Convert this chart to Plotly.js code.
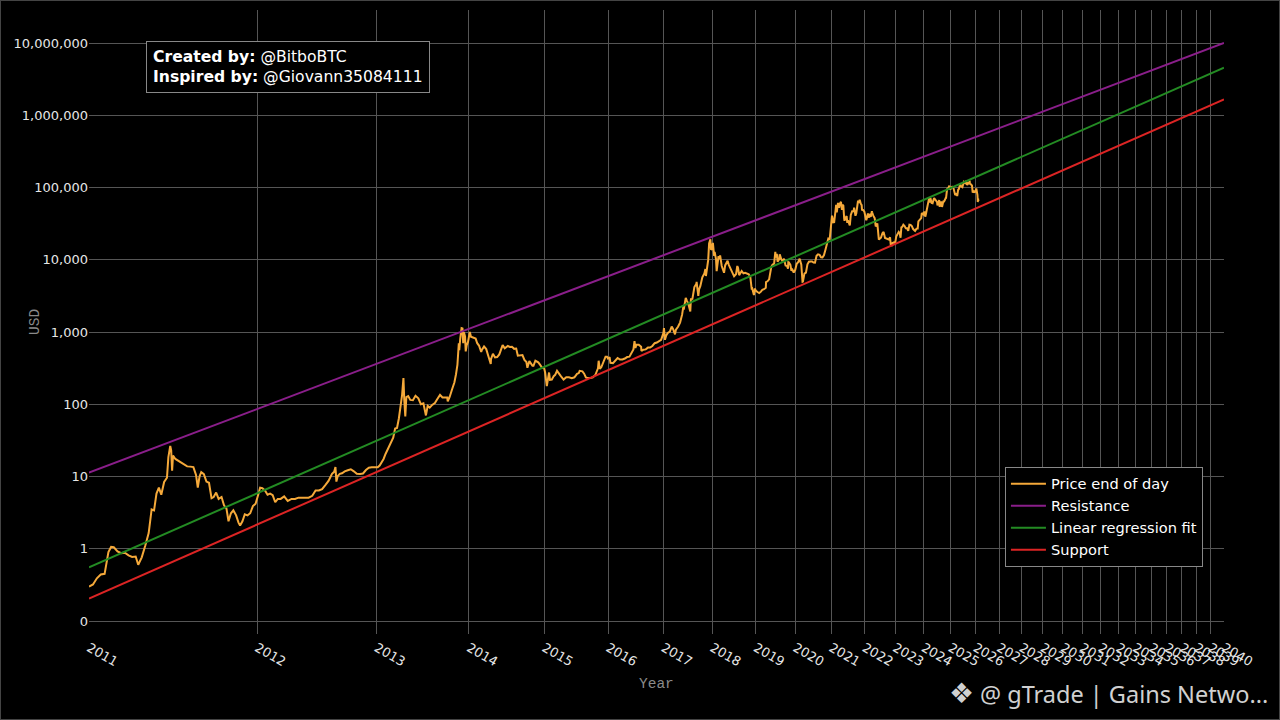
<!DOCTYPE html>
<html><head><meta charset="utf-8">
<script src="https://cdn.plot.ly/plotly-3.0.1.min.js"></script>
<style>
html,body{margin:0;padding:0;background:#000;}
#chart{width:1280px;height:720px;}
#frame{position:absolute;left:0;top:0;width:1280px;height:720px;box-sizing:border-box;border:1px solid #444;pointer-events:none;}
</style>
</head><body><div id="chart"></div><div id="frame"></div>
<script>
const GENESIS = "2009-01-03";
const tickYears = [2011,2012,2013,2014,2015,2016,2017,2018,2019,2020,2021,2022,2023,2024,2025,2026,2027,2028,2029,2030,2031,2032,2033,2034,2035,2036,2037,2038,2039,2040];
const yTickVals = [0.1,1,10,100,1000,10000,100000,1000000,10000000];
const yTickText = ["0","1","10","100","1,000","10,000","100,000","1,000,000","10,000,000"];

const priceDates = [
"2011-01-01","2011-01-08","2011-01-15","2011-01-22","2011-01-29","2011-02-05","2011-02-10","2011-02-15","2011-02-22","2011-03-01","2011-03-08","2011-03-15","2011-03-22","2011-03-29","2011-04-03","2011-04-10","2011-04-17","2011-04-24","2011-04-30","2011-05-05","2011-05-10","2011-05-15","2011-05-20","2011-05-26","2011-06-01","2011-06-04","2011-06-08","2011-06-10","2011-06-12","2011-06-14","2011-06-19","2011-06-25","2011-07-01","2011-07-08","2011-07-15","2011-07-22","2011-07-29","2011-08-04","2011-08-08","2011-08-12","2011-08-16","2011-08-22","2011-08-28","2011-09-03","2011-09-09","2011-09-14","2011-09-20","2011-09-26","2011-10-03","2011-10-09","2011-10-15","2011-10-20","2011-10-26","2011-11-01","2011-11-08","2011-11-14","2011-11-18","2011-11-24","2011-11-30","2011-12-07","2011-12-14","2011-12-21","2011-12-28",
"2012-01-04","2012-01-09","2012-01-15","2012-01-22","2012-01-29","2012-02-05","2012-02-12","2012-02-19","2012-02-26","2012-03-05","2012-03-15","2012-03-25","2012-04-05","2012-04-15","2012-04-25","2012-05-05","2012-05-15","2012-05-25","2012-06-05","2012-06-15","2012-06-25","2012-07-05","2012-07-15","2012-07-25","2012-08-05","2012-08-12","2012-08-16","2012-08-19","2012-08-23","2012-08-30","2012-09-06","2012-09-15","2012-09-25","2012-10-05","2012-10-15","2012-10-25","2012-11-05","2012-11-15","2012-11-25","2012-12-05","2012-12-15","2012-12-25",
"2013-01-05","2013-01-12","2013-01-19","2013-01-26","2013-02-02","2013-02-09","2013-02-16","2013-02-23","2013-03-02","2013-03-09","2013-03-16","2013-03-23","2013-03-30","2013-04-04","2013-04-09","2013-04-10","2013-04-12","2013-04-16","2013-04-20","2013-04-27","2013-05-05","2013-05-15","2013-05-25","2013-06-05","2013-06-15","2013-06-25","2013-07-05","2013-07-12","2013-07-20","2013-07-30","2013-08-10","2013-08-20","2013-08-31","2013-09-10","2013-09-20","2013-09-30","2013-10-02","2013-10-10","2013-10-20","2013-10-30","2013-11-06","2013-11-12","2013-11-18","2013-11-20","2013-11-24","2013-11-30","2013-12-04","2013-12-07","2013-12-10","2013-12-15","2013-12-18","2013-12-22","2013-12-28",
"2014-01-05","2014-01-10","2014-01-20","2014-01-31","2014-02-07","2014-02-15","2014-02-25","2014-02-28","2014-03-10","2014-03-20","2014-03-31","2014-04-10","2014-04-11","2014-04-20","2014-04-30","2014-05-10","2014-05-20","2014-05-31","2014-06-05","2014-06-15","2014-06-30","2014-07-10","2014-07-20","2014-07-31","2014-08-10","2014-08-18","2014-08-31","2014-09-10","2014-09-20","2014-09-30","2014-10-05","2014-10-15","2014-10-31","2014-11-05","2014-11-15","2014-11-30","2014-12-10","2014-12-20","2014-12-31",
"2015-01-05","2015-01-14","2015-01-20","2015-01-26","2015-01-31","2015-02-10","2015-02-20","2015-02-28","2015-03-10","2015-03-20","2015-03-31","2015-04-15","2015-04-30","2015-05-15","2015-05-31","2015-06-15","2015-06-30","2015-07-10","2015-07-15","2015-07-31","2015-08-10","2015-08-20","2015-08-31","2015-09-15","2015-09-30","2015-10-15","2015-10-31","2015-11-04","2015-11-11","2015-11-20","2015-11-30","2015-12-10","2015-12-16","2015-12-25","2015-12-31",
"2016-01-10","2016-01-15","2016-01-31","2016-02-15","2016-02-29","2016-03-15","2016-03-31","2016-04-15","2016-04-30","2016-05-15","2016-05-31","2016-06-10","2016-06-17","2016-06-23","2016-06-30","2016-07-15","2016-07-31","2016-08-02","2016-08-15","2016-08-31","2016-09-15","2016-09-30","2016-10-15","2016-10-31","2016-11-15","2016-11-30","2016-12-15","2016-12-31",
"2017-01-04","2017-01-11","2017-01-20","2017-01-31","2017-02-15","2017-02-28","2017-03-10","2017-03-24","2017-03-31","2017-04-15","2017-04-30","2017-05-15","2017-05-25","2017-05-27","2017-05-31","2017-06-11","2017-06-20","2017-06-30","2017-07-15","2017-07-20","2017-07-31","2017-08-15","2017-08-31","2017-09-01","2017-09-14","2017-09-20","2017-09-30","2017-10-15","2017-10-31","2017-11-08","2017-11-12","2017-11-20","2017-11-28","2017-11-30","2017-12-07","2017-12-17","2017-12-22","2017-12-25","2017-12-31",
"2018-01-06","2018-01-16","2018-01-20","2018-01-31","2018-02-05","2018-02-20","2018-02-28","2018-03-05","2018-03-18","2018-03-31","2018-04-06","2018-04-15","2018-04-25","2018-05-05","2018-05-15","2018-05-31","2018-06-15","2018-06-28","2018-07-15","2018-07-25","2018-07-31","2018-08-10","2018-08-15","2018-08-31","2018-09-15","2018-09-30","2018-10-15","2018-10-31","2018-11-14","2018-11-20","2018-11-25","2018-11-30","2018-12-15","2018-12-24","2018-12-31",
"2019-01-15","2019-01-31","2019-02-15","2019-02-28","2019-03-15","2019-03-31","2019-04-02","2019-04-15","2019-04-30","2019-05-14","2019-05-20","2019-05-31","2019-06-15","2019-06-26","2019-06-30","2019-07-10","2019-07-17","2019-07-31","2019-08-06","2019-08-20","2019-08-31","2019-09-15","2019-09-24","2019-09-30","2019-10-15","2019-10-23","2019-10-26","2019-10-31","2019-11-15","2019-11-25","2019-11-30","2019-12-17","2019-12-31",
"2020-01-15","2020-01-31","2020-02-13","2020-02-29","2020-03-12","2020-03-16","2020-03-31","2020-04-15","2020-04-30","2020-05-15","2020-05-31","2020-06-15","2020-06-30","2020-07-15","2020-07-31","2020-08-15","2020-08-31","2020-09-15","2020-09-30","2020-10-15","2020-10-31","2020-11-15","2020-11-30","2020-12-15","2020-12-31",
"2021-01-08","2021-01-22","2021-01-31","2021-02-15","2021-02-21","2021-02-28","2021-03-13","2021-03-25","2021-03-31","2021-04-14","2021-04-25","2021-04-30","2021-05-10","2021-05-19","2021-05-23","2021-05-31","2021-06-15","2021-06-22","2021-06-30","2021-07-20","2021-07-31","2021-08-15","2021-08-31","2021-09-06","2021-09-21","2021-09-30","2021-10-20","2021-10-31","2021-11-08","2021-11-20","2021-11-30","2021-12-04","2021-12-15","2021-12-31",
"2022-01-22","2022-01-31","2022-02-10","2022-02-24","2022-02-28","2022-03-15","2022-03-28","2022-03-31","2022-04-15","2022-04-30","2022-05-12","2022-05-31","2022-06-18","2022-06-30","2022-07-13","2022-07-31","2022-08-14","2022-08-31","2022-09-15","2022-09-30","2022-10-15","2022-10-31","2022-11-09","2022-11-21","2022-11-30","2022-12-15","2022-12-31",
"2023-01-15","2023-01-31","2023-02-15","2023-02-28","2023-03-10","2023-03-20","2023-03-31","2023-04-14","2023-04-30","2023-05-15","2023-05-31","2023-06-15","2023-06-30","2023-07-15","2023-07-31","2023-08-17","2023-08-31","2023-09-11","2023-09-30","2023-10-15","2023-10-24","2023-10-31","2023-11-15","2023-11-30","2023-12-08","2023-12-31",
"2024-01-11","2024-01-23","2024-01-31","2024-02-15","2024-02-29","2024-03-14","2024-03-19","2024-03-31","2024-04-17","2024-04-30","2024-05-20","2024-05-31","2024-06-15","2024-06-30","2024-07-05","2024-07-29","2024-07-31","2024-08-05","2024-08-25","2024-08-31","2024-09-06","2024-09-27","2024-09-30","2024-10-15","2024-10-29","2024-10-31","2024-11-12","2024-11-22","2024-11-30","2024-12-17","2024-12-31",
"2025-01-20","2025-01-31","2025-02-15","2025-02-28","2025-03-10","2025-03-31","2025-04-08","2025-04-22","2025-04-30","2025-05-22","2025-05-31","2025-06-22","2025-06-30","2025-07-14","2025-07-31","2025-08-13","2025-08-31","2025-09-15","2025-09-30","2025-10-06","2025-10-10","2025-10-31","2025-11-10","2025-11-21","2025-11-30","2025-12-15","2025-12-31",
"2026-01-14","2026-01-31","2026-02-05","2026-02-10","2026-02-20","2026-02-25"
];
const priceValues = [
0.30,0.32,0.39,0.44,0.45,0.90,1.06,1.05,0.92,0.87,0.88,0.81,0.77,0.78,0.60,0.76,1.10,1.65,3.5,3.4,5.8,7.0,5.6,8.4,9.6,18.5,26.5,23.0,12.0,19.5,17.5,16.5,15.4,14.6,13.8,13.7,13.5,10.5,7.0,10.0,11.5,10.8,8.5,8.2,5.0,5.2,6.0,4.9,5.2,4.0,3.6,2.4,3.1,3.4,2.9,2.3,2.1,2.4,3.0,2.9,3.1,3.9,4.2,
5.6,7.0,6.9,6.4,5.6,5.8,5.5,4.4,4.9,4.9,5.3,4.6,4.9,4.9,5.1,5.1,5.0,5.1,5.4,6.4,6.4,6.7,7.6,8.7,10.9,11.6,13.5,8.5,10.1,10.9,11.1,11.8,12.2,12.6,11.8,10.9,10.8,11.0,12.3,13.2,13.4,13.4,
13.4,14.2,15.7,17.5,20.5,23.7,27.0,29.9,34.5,46.0,47.0,64.0,92.0,135,230,165,117,68,126,130,115,114,131,121,100,103,70,95,90,98,104,118,135,124,123,124,110,126,160,200,260,350,700,560,800,1130,1120,700,990,870,540,650,730,
1000,860,840,810,700,650,530,565,630,580,450,360,420,500,445,450,490,625,660,595,640,620,625,585,590,470,480,480,410,385,320,395,340,340,400,380,350,320,315,
275,178,210,275,218,220,245,255,290,262,245,220,237,237,230,236,263,270,290,285,265,235,230,230,236,254,314,400,310,325,377,415,455,455,430,
448,375,370,400,437,415,416,430,450,455,530,575,750,600,670,665,625,545,570,575,608,608,640,700,715,745,780,965,
1130,780,895,970,1010,1190,1100,930,1080,1180,1350,1740,2300,2050,2300,2960,2700,2480,1930,2860,2875,4200,4700,4950,3150,3900,4340,5700,6470,7450,5950,8200,9900,9950,16800,19140,13800,14000,14150,
17100,11300,12800,10200,6950,11200,10300,11500,8200,6900,6600,8350,8900,9700,8500,7500,6500,5900,6350,8200,7730,6150,6300,7000,6500,6600,6500,6300,5700,4450,4000,4020,3240,4000,3740,
3580,3460,3620,3850,3930,4100,4900,5030,5350,8000,8000,8550,8850,12900,10800,12100,9400,10100,11900,10200,9600,10300,8600,8300,8150,7500,9250,9200,8500,7000,7550,6640,7190,
8800,9350,10350,8550,4970,5000,6440,6640,8660,9380,9460,9450,9140,9130,11330,11900,11680,10800,10780,11500,13800,15950,19700,19400,29000,
40800,33000,33100,48700,57500,45200,61200,52300,58900,63500,49000,57750,55900,37000,34700,37300,40200,32500,35000,29800,41600,47100,47100,52700,40700,43800,65900,61300,67500,59700,57000,49400,48900,46300,
35100,38500,43600,38300,43200,39300,47100,45500,40400,37700,28900,31800,19000,19900,20200,23300,24300,20000,19700,19400,19100,20500,15900,15800,17100,17400,16550,
20900,23100,24300,23100,20200,28000,28500,30500,29300,27200,27200,25100,30500,30300,29200,26600,25900,25100,27000,27100,33900,34700,35500,37700,44200,42300,
46600,39500,42600,51900,61200,71400,62000,71300,61300,60600,71400,67500,66000,62700,56700,66800,64600,54000,64200,58900,53900,65800,63300,67000,72700,70200,88700,98900,96400,106100,93400,
102000,102400,97500,84400,78500,82500,76300,93400,94200,111700,104600,101000,107100,119800,115700,123300,108200,115300,114000,124700,113200,109500,106000,84600,90400,86400,87500,
96900,78600,63000,68800,67500,68000
];

const lineDates = ["2011-01-01","2040-01-01"];
const resistanceValues = [11.3, 10000000];
const regressionValues = [0.553, 4550000];
const supportValues = [0.205, 1660000];

function daysSince(d){
  return Math.round((Date.parse(d+"T00:00:00Z") - Date.parse(GENESIS+"T00:00:00Z"))/86400000);
}
const priceX = priceDates.map(daysSince);
const lineX = lineDates.map(daysSince);
const xTickVals = tickYears.map(y => daysSince(y+"-01-01"));
const xTickText = tickYears.map(String);

const traces = [
  {x: priceX, y: priceValues, type:'scatter', mode:'lines', name:'Price end of day', line:{color:'#F5A93A', width:2}},
  {x: lineX, y: resistanceValues, type:'scatter', mode:'lines', name:'Resistance', line:{color:'#8A1E8A', width:2}},
  {x: lineX, y: regressionValues, type:'scatter', mode:'lines', name:'Linear regression fit', line:{color:'#238B23', width:2}},
  {x: lineX, y: supportValues, type:'scatter', mode:'lines', name:'Support', line:{color:'#DC2424', width:2}}
];

const tickFont = {family:'DejaVu Sans, Verdana, sans-serif', size:13, color:'#e6e6e6'};
const titleFont = {family:'Liberation Mono, Courier New, monospace', size:14.5, color:'#8a8a8a'};
const layout = {
  width:1280, height:720,
  paper_bgcolor:'#000', plot_bgcolor:'#000',
  margin:{l:89, r:56, t:10, b:86},
  showlegend:true,
  xaxis:{
    type:'log',
    range:[Math.log10(lineX[0]), Math.log10(lineX[1])],
    tickmode:'array', tickvals:xTickVals, ticktext:xTickText,
    tickangle:30, tickfont:tickFont, ticklabelstandoff:3,
    gridcolor:'#555', gridwidth:1, zeroline:false, showline:false, ticks:''
  },
  yaxis:{
    type:'log',
    range:[-1.18, 7.457],
    tickmode:'array', tickvals:yTickVals, ticktext:yTickText,
    tickfont:tickFont,
    gridcolor:'#555', gridwidth:1, zeroline:false, showline:false, ticks:''
  },
  legend:{
    x:0.807, y:0.268, xanchor:'left', yanchor:'top',
    bgcolor:'#000', bordercolor:'#888', borderwidth:1, itemwidth:35,
    font:{family:'DejaVu Sans, Verdana, sans-serif', size:14.6, color:'#fff'}
  },
  annotations:[
    {xref:'paper', yref:'paper', x:0.5, y:-0.080, xanchor:'center', yanchor:'middle',
     text:'Year', showarrow:false, font:titleFont},
    {xref:'paper', yref:'paper', x:-0.0476, y:0.5, xanchor:'center', yanchor:'middle',
     text:'USD', textangle:-90, showarrow:false, font:titleFont},
    {xref:'paper', yref:'paper', x:0.05, y:0.951, xanchor:'left', yanchor:'top', align:'left',
     text:'<b>Created by:</b> @BitboBTC<br><b>Inspired by:</b> @Giovann35084111',
     showarrow:false, bgcolor:'#000', bordercolor:'#888', borderwidth:1, borderpad:6,
     font:{family:'DejaVu Sans, Verdana, sans-serif', size:15.6, color:'#fff'}},
    {xref:'paper', yref:'paper', x:0.7685, y:-0.096, xanchor:'center', yanchor:'middle',
     text:'❖', showarrow:false,
     font:{family:'DejaVu Sans, sans-serif', size:28, color:'#d0d0d0'}},
    {xref:'paper', yref:'paper', x:1.0405, y:-0.096, xanchor:'right', yanchor:'middle',
     text:'@ gTrade | Gains Netwo...', showarrow:false,
     font:{family:'Noto Sans, DejaVu Sans, sans-serif', size:23.5, color:'#d0d0d0'}}
  ]
};

Plotly.newPlot('chart', traces, layout, {staticPlot:true, displayModeBar:false});
</script>
</body></html>
